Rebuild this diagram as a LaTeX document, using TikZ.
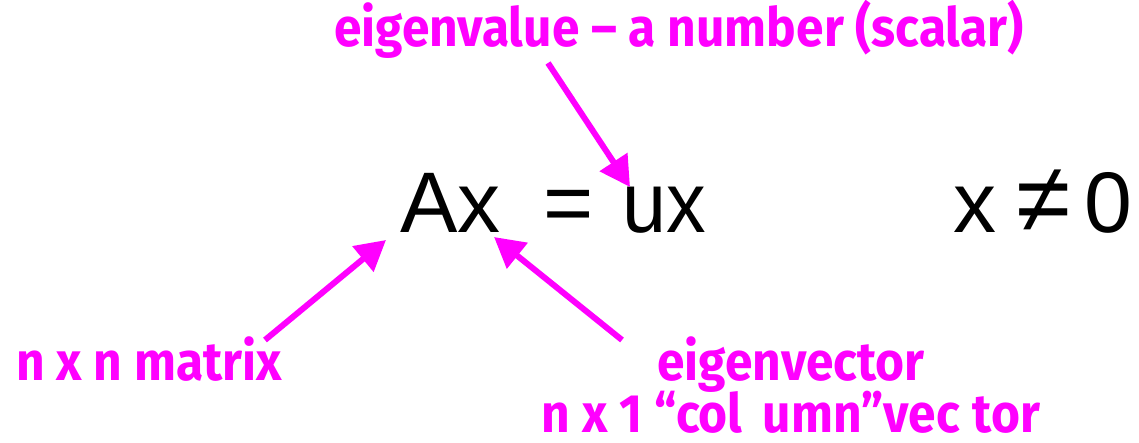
\documentclass[tikz,border=0pt]{standalone}
\usepackage{fontspec}
\setmainfont{Liberation Sans}
\newfontfamily\lblfont{Fira Sans}
\definecolor{lblmag}{RGB}{255, 0, 255}
\usetikzlibrary{arrows.meta, positioning}
\newcommand{\narrow}[1]{\scalebox{0.92}[1]{#1}}

\begin{document}
\begin{tikzpicture}[x=1pt, y=-1pt,
  lbl/.style={font=\lblfont\bfseries\fontsize{54}{56}\selectfont, text=lblmag, inner sep=0pt},
  eqn/.style={font=\fontsize{86}{90}\selectfont, inner sep=0pt},
  ptr/.style={lblmag, line width=6pt, -{Triangle[length=30pt, width=32pt]}}]
  \useasboundingbox (0,0) rectangle (1139,443);
  % equation
  \node[eqn, anchor=base west] (Ax) at (400,233) {Ax};
  \node[eqn, anchor=base] (eq) at (569,233) {=};
  \node[eqn, anchor=base west] (ux) at (622,233) {\scalebox{0.92}[1]{ux}};
  \node[eqn, anchor=base west] (cond) at (953,233) {x\hspace{20pt}\scalebox{1.15}{≠}\hspace{14pt}0};
  % labels
  \node[lbl, anchor=base] (eigval) at (679,47) {\narrow{eigenvalue – a number (scalar)}};
  \node[lbl, anchor=base] (matrix) at (149,380) {\narrow{n x n matrix}};
  \node[lbl, anchor=base] (eigvec) at (791,380) {\narrow{eigenvector}};
  \node[lbl, anchor=base] (colvec) at (791,432) {\narrow{n x 1 “col\hspace{22pt}umn”vec\hspace{14pt}tor}};
  % arrows
  \coordinate (valtail) at (548,63);
  \coordinate (valtip) at (630,187);
  \coordinate (mattail) at (265,340);
  \coordinate (mattip) at (386,240);
  \coordinate (vectail) at (622,340);
  \coordinate (vectip) at (494,237);
  \draw[ptr] (valtail) -- (valtip);
  \draw[ptr] (mattail) -- (mattip);
  \draw[ptr] (vectail) -- (vectip);
\end{tikzpicture}
\end{document}
